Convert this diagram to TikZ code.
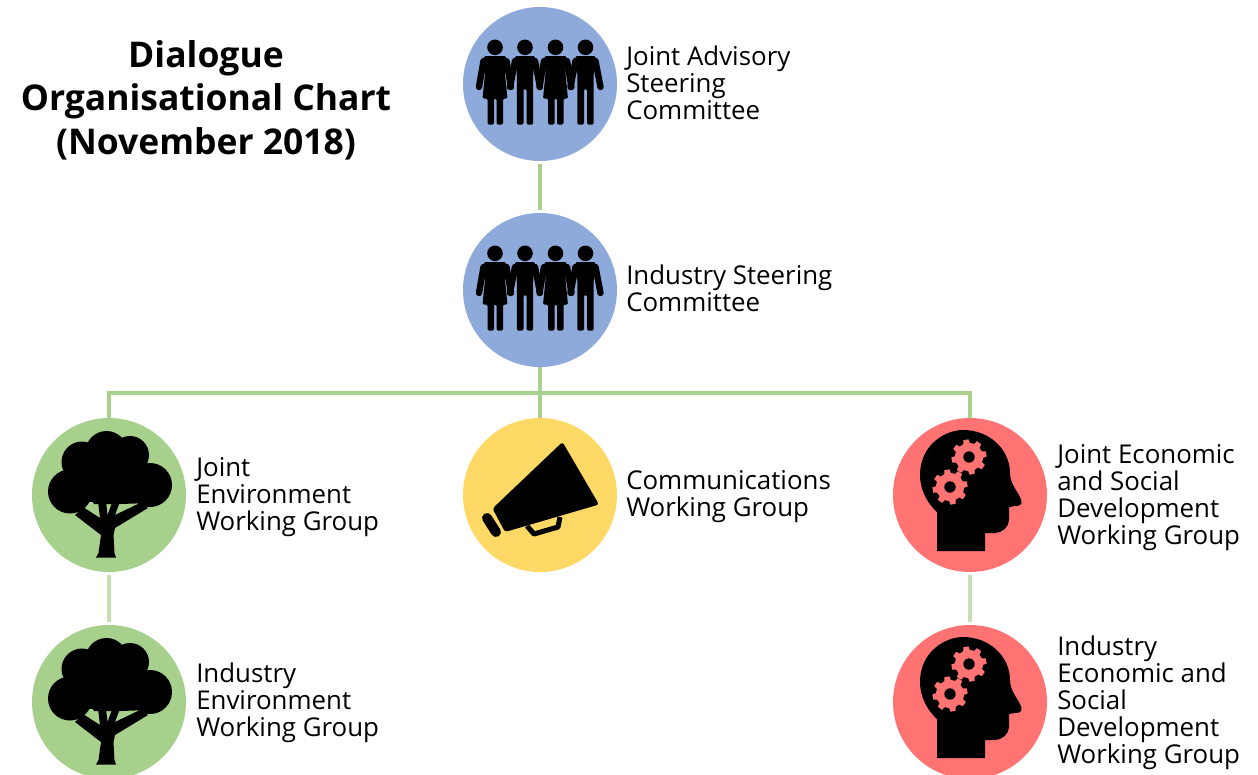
\documentclass[tikz,border=0pt]{standalone}
\usepackage{fontspec}
\setmainfont[Ligatures=NoCommon]{Open Sans}
\definecolor{cblue}{HTML}{8EAADB}
\definecolor{cgreen}{HTML}{A8D08D}
\definecolor{cyellow}{HTML}{FFD966}
\definecolor{cred}{HTML}{FF7373}
\definecolor{cline}{HTML}{A9D18E}
\definecolor{clinelight}{HTML}{C5E0B3}
\tikzset{
  x=0.75pt,y=-0.75pt,
  disc/.style={circle,minimum size=115.5pt,inner sep=0pt,outer sep=0pt},
  label text/.style={anchor=west,align=left,font=\fontsize{19.4pt}{20.3pt}\selectfont,inner sep=0pt,text=black},
  title text/.style={align=center,font=\bfseries\fontsize{26.6pt}{32.5pt}\selectfont,inner sep=0pt},
  link/.style={draw=cline,line width=2.3pt},
  linklight/.style={draw=clinelight,line width=2.3pt},
  woman/.pic={
    \fill (0,-36.7) circle (7.8);
    \fill[rounded corners=1pt] (-11,-28) -- (11,-28) -- (10,-10) -- (12.5,14.5) -- (8,14.5) -- (8,40.5) -- (1.5,40.5) -- (1.5,14.5) -- (-1,14.5) -- (-1,40.5) -- (-7.5,40.5) -- (-7.5,14.5) -- (-12.5,14.5) -- (-10,-10) -- cycle;
    \draw[line width=4.8pt,line cap=round,line join=round] (-11.5,-23) -- (-16,3) (11.5,-23) -- (16,3);
  },
  man/.pic={
    \fill (0,-36.7) circle (7.8);
    \fill[rounded corners=1pt] (-10,-28) -- (10,-28) -- (8.2,-10) -- (8.2,40.5) -- (1.5,40.5) -- (1.5,5) -- (-1.5,5) -- (-1.5,40.5) -- (-8.2,40.5) -- (-8.2,-10) -- cycle;
    \draw[line width=4.8pt,line cap=round,line join=round] (-10,-23) -- (-15,3) (10,-23) -- (15,3);
  },
  people/.pic={
    \pic at (-45,0) {woman};
    \pic at (-15,0) {man};
    \pic at (15.5,0) {woman};
    \pic at (45.5,0) {man};
  },
  tree/.pic={
    \fill (-2.5,-43) circle (21);
    \fill (-27,-33) circle (20.5);
    \fill (21,-40) circle (19);
    \fill (-39,-3.5) circle (22);
    \fill (41,-10) circle (22);
    \fill (16,-18) circle (24);
    \fill (-17,-15) circle (22);
    \fill (-33,-20) -- (35,-25) -- (40,8) -- (12,9) -- (-15,9) -- cycle;
    \fill (-13,62.5) -- (-10.5,58) -- (-8,40) -- (-34,20) -- (-26,12) -- (-9,23) -- (-11,6) -- (-3,6) -- (-1.5,20) -- (4,5) -- (12,4) -- (6,20) -- (33,7) -- (39,13) -- (6,33) -- (4.5,40) -- (5.5,58) -- (7,62.5) -- cycle;
  },
  megaphone/.pic={
    \fill[rounded corners=2pt] (22.5,-53) -- (59,9.5) -- (-35,37) -- (-47.5,13.5) -- cycle;
    \draw[line width=3.8pt,line join=round] (-13,31) -- (-6,39) -- (18,32) -- (20,22);
    \draw[line width=7.5pt,line cap=round] (-53,23) -- (-44,37);
  },
  gear/.pic={
    \fill[cred] (0,0) circle (14);
    \foreach \a in {0,45,...,315}{
      \fill[cred,rotate=\a+10] (-3.5,-12) -- (-2.6,-17.5) -- (2.6,-17.5) -- (3.5,-12) -- cycle;
    }
    \fill (0,0) circle (5.7);
  },
  head/.pic={
    \fill (-33,56) -- (-33,17) .. controls (-45,6) and (-50,-8) .. (-50,-20) .. controls (-50,-50) and (-25,-65) .. (-7,-65) .. controls (20,-65) and (40,-45) .. (40,-22) .. controls (40,-12) and (47,-4) .. (50,2) .. controls (53,8) and (52,11) .. (45,11) -- (39,12) -- (39,25) .. controls (39,32) and (32,38) .. (25,38) -- (15,38) -- (15,56) -- cycle;
    \pic at (-1,-38) {gear};
    \pic at (-20,-8) {gear};
  },
}
\begin{document}
\begin{tikzpicture}
\useasboundingbox (0,0) rectangle (1258,775);
\node[disc,fill=cblue] (jasc) at (540,84) {};
\node[disc,fill=cblue] (isc) at (540,290) {};
\node[disc,fill=cgreen] (jewg) at (109,495) {};
\node[disc,fill=cyellow] (cwg) at (540,495) {};
\node[disc,fill=cred] (jesd) at (970,495) {};
\node[disc,fill=cgreen] (iewg) at (109,702) {};
\node[disc,fill=cred] (iesd) at (970,702) {};
\coordinate (bar) at (540,393);
\draw[link] ([yshift=-2pt]jasc.south) -- ([yshift=2pt]isc.north);
\draw[link] (isc.south) -- (cwg.north);
\draw[link] (jewg.north) |- (bar) -| (jesd.north);
\draw[linklight] ([yshift=-2pt]jewg.south) -- ([yshift=2pt]iewg.north);
\draw[linklight] ([yshift=-2pt]jesd.south) -- ([yshift=2pt]iesd.north);
\pic at (jasc) {people};
\pic at (isc) {people};
\pic at (jewg) {tree};
\pic at (iewg) {tree};
\pic at (cwg) {megaphone};
\pic at (jesd) {head};
\pic at (iesd) {head};
\node[title text] (title) at (206,100) {Dialogue\\Organisational Chart\\(November 2018)};
\node[label text] (t1) at (626,83) {Joint Advisory\\Steering\\Committee};
\node[label text] (t2) at (626,288) {Industry Steering\\Committee};
\node[label text] (t3) at (196,497) {Joint\\Environment\\Working Group};
\node[label text] (t4) at (626,497) {Communications\\Working Group};
\node[label text] (t5) at (1057,498) {Joint Economic\\and Social\\Development\\Working Group};
\node[label text] (t6) at (196,703) {Industry\\Environment\\Working Group};
\node[label text] (t7) at (1057,703) {Industry\\Economic and\\Social\\Development\\Working Group};
\end{tikzpicture}
\end{document}
